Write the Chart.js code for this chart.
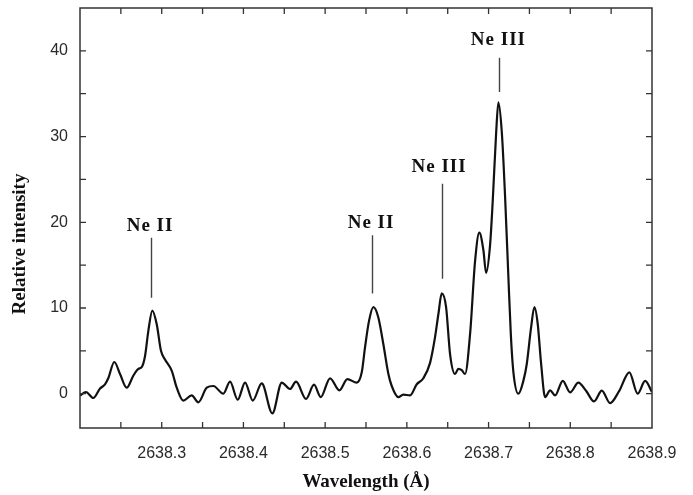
<!DOCTYPE html>
<html>
<head>
<meta charset="utf-8">
<script src="https://cdn.jsdelivr.net/npm/chart.js@4.4.0/dist/chart.umd.min.js"></script>
<style>
  body { margin: 0; background: #fff; }
  #wrap { width: 693px; height: 495px; }
</style>
</head>
<body>
<div id="wrap"><canvas id="spectrum" width="693" height="495"></canvas></div>
<script>
// spectrum
const wavelength = [
  2638.2000, 2638.2073, 2638.2163, 2638.2245, 2638.2306, 2638.2346, 2638.2420, 2638.2490, 2638.2572, 2638.2652,
  2638.2714, 2638.2755, 2638.2796, 2638.2836, 2638.2885, 2638.2939, 2638.2991, 2638.3040, 2638.3122, 2638.3184,
  2638.3264, 2638.3367, 2638.3448, 2638.3551, 2638.3632, 2638.3754, 2638.3836, 2638.3930, 2638.4020, 2638.4114,
  2638.4224, 2638.4354, 2638.4469, 2638.4570, 2638.4644, 2638.4766, 2638.4864, 2638.4946, 2638.5060, 2638.5174,
  2638.5272, 2638.5387, 2638.5448, 2638.5488, 2638.5537, 2638.5590, 2638.5651, 2638.5712, 2638.5774, 2638.5815,
  2638.5896, 2638.5957, 2638.6039, 2638.6121, 2638.6202, 2638.6284, 2638.6345, 2638.6386, 2638.6427, 2638.6480,
  2638.6529, 2638.6590, 2638.6630, 2638.6672, 2638.6712, 2638.6774, 2638.6835, 2638.6887, 2638.6936, 2638.6970,
  2638.7018, 2638.7051, 2638.7092, 2638.7120, 2638.7162, 2638.7202, 2638.7243, 2638.7272, 2638.7304, 2638.7365,
  2638.7426, 2638.7468, 2638.7520, 2638.7561, 2638.7602, 2638.7643, 2638.7692, 2638.7753, 2638.7814, 2638.7908,
  2638.7998, 2638.8099, 2638.8193, 2638.8291, 2638.8386, 2638.8487, 2638.8597, 2638.8723, 2638.8824, 2638.8916,
  2638.9000
];
const intensity = [
  -0.2, 0.2, -0.5, 0.6, 1.1, 1.8, 3.7, 2.3, 0.7, 2.1,
  2.9, 3.1, 4.4, 7.3, 9.7, 8.1, 5.0, 4.0, 2.7, 0.7,
  -0.8, -0.2, -1.0, 0.7, 0.9, 0.0, 1.4, -0.7, 1.3, -0.8,
  1.2, -2.3, 1.3, 0.55, 1.4, -0.6, 1.05, -0.4, 1.8, 0.4,
  1.7, 1.3, 2.5, 5.4, 8.5, 10.1, 8.9, 5.8, 2.3, 0.9,
  -0.4, -0.1, -0.2, 1.1, 1.8, 3.6, 6.6, 9.3, 11.7, 10.1,
  4.6, 2.3, 2.9, 2.75, 2.3, 7.0, 15.5, 18.8, 16.8, 14.1,
  17.3, 22.5, 30.3, 34.0, 30.5, 23.0, 13.5, 7.0, 2.5, 0.0,
  1.5, 3.5, 7.7, 10.1, 8.1, 3.5, -0.4, 0.4, -0.2, 1.5,
  0.15, 1.3, 0.35, -0.9, 0.35, -1.1, 0.3, 2.5, 0.0, 1.5,
  0.2
];

// axis ticks
const xTickLabels = [2638.3, 2638.4, 2638.5, 2638.6, 2638.7, 2638.8, 2638.9];
const yTickLabels = [0, 10, 20, 30, 40];
const xTickMarks = [2638.25, 2638.3, 2638.35, 2638.4, 2638.45, 2638.5, 2638.55, 2638.6, 2638.65, 2638.7, 2638.75, 2638.8, 2638.85];
const yTickMarks = [0, 5, 10, 15, 20, 25, 30, 35, 40];

// line labels
const ionNames = ["Ne II", "Ne II", "Ne III", "Ne III"];
const nameX = [2638.2857, 2638.5562, 2638.6394, 2638.7120];
const nameY = [19.6, 19.9, 26.4, 41.2];
const markerX = [2638.2869, 2638.5574, 2638.6427, 2638.7125];
const markerTop = [18.2, 18.5, 24.5, 39.2];
const markerBottom = [11.2, 11.7, 13.4, 35.2];

const frame = {
  id: "frame",
  afterDatasetsDraw(chart) {
    const { ctx, chartArea: a, scales } = chart;
    const x = scales.x, y = scales.y;
    ctx.save();
    ctx.strokeStyle = "#333";
    ctx.lineWidth = 1.5;
    ctx.strokeRect(a.left, a.top, a.right - a.left, a.bottom - a.top);

    // inward ticks on all four sides
    ctx.lineWidth = 1.3;
    ctx.beginPath();
    xTickMarks.forEach((v) => {
      const px = x.getPixelForValue(v);
      ctx.moveTo(px, a.bottom);
      ctx.lineTo(px, a.bottom - 6);
      ctx.moveTo(px, a.top);
      ctx.lineTo(px, a.top + 6);
    });
    yTickMarks.forEach((v) => {
      const py = y.getPixelForValue(v);
      ctx.moveTo(a.left, py);
      ctx.lineTo(a.left + 6, py);
      ctx.moveTo(a.right, py);
      ctx.lineTo(a.right - 6, py);
    });
    ctx.stroke();

    // ion labels and marker lines
    ctx.strokeStyle = "#444";
    ctx.lineWidth = 1.4;
    ctx.beginPath();
    markerX.forEach((v, i) => {
      const px = Math.round(x.getPixelForValue(v)) + 0.5;
      ctx.moveTo(px, y.getPixelForValue(markerTop[i]));
      ctx.lineTo(px, y.getPixelForValue(markerBottom[i]));
    });
    ctx.stroke();

    ctx.fillStyle = "#111";
    ctx.font = "bold 19px 'Liberation Serif', serif";
    ctx.letterSpacing = "1px";
    ctx.textAlign = "center";
    ctx.textBaseline = "middle";
    ionNames.forEach((t, i) => {
      ctx.fillText(t, x.getPixelForValue(nameX[i]), y.getPixelForValue(nameY[i]));
    });

    // y axis title
    ctx.letterSpacing = "0px";
    ctx.font = "bold 19px 'Liberation Serif', serif";
    ctx.translate(20, 244);
    ctx.rotate(-Math.PI / 2);
    ctx.fillText("Relative intensity", 0, 0);
    ctx.restore();
  },
};

new Chart(document.getElementById("spectrum"), {
  type: "line",
  data: {
    datasets: [
      {
        data: wavelength.map((w, i) => ({ x: w, y: intensity[i] })),
        borderColor: "#111",
        borderWidth: 2.2,
        pointRadius: 0,
        cubicInterpolationMode: "monotone",
        fill: false,
      },
    ],
  },
  options: {
    responsive: false,
    animation: false,
    layout: { padding: { top: 8, right: 41, bottom: 0, left: 0 } },
    plugins: { legend: { display: false }, tooltip: { enabled: false } },
    scales: {
      x: {
        type: "linear",
        min: 2638.2,
        max: 2638.9,
        grid: { display: false, drawTicks: false },
        border: { display: false },
        afterBuildTicks: (s) => { s.ticks = xTickLabels.map((v) => ({ value: v })); },
        afterFit: (s) => {
          s.height = 67;
          s.paddingLeft = 0;
          s.paddingRight = 0;
        },
        ticks: {
          padding: 16,
          color: "#2a2a2a",
          font: { family: "'Liberation Sans', Arial, sans-serif", size: 16 },
          callback: (v) => v.toFixed(1),
        },
        title: {
          display: true,
          text: "Wavelength (Å)",
          color: "#111",
          font: { family: "'Liberation Serif', serif", size: 19, weight: "bold" },
          padding: { top: 0, bottom: 2 },
        },
      },
      y: {
        min: -4,
        max: 45,
        grid: { display: false, drawTicks: false },
        border: { display: false },
        afterBuildTicks: (s) => { s.ticks = yTickLabels.map((v) => ({ value: v })); },
        afterFit: (s) => {
          s.width = 80;
          s.paddingTop = 0;
          s.paddingBottom = 0;
        },
        ticks: {
          padding: 12,
          color: "#2a2a2a",
          font: { family: "'Liberation Sans', Arial, sans-serif", size: 16 },
        },
      },
    },
  },
  plugins: [frame],
});
</script>
</body>
</html>
